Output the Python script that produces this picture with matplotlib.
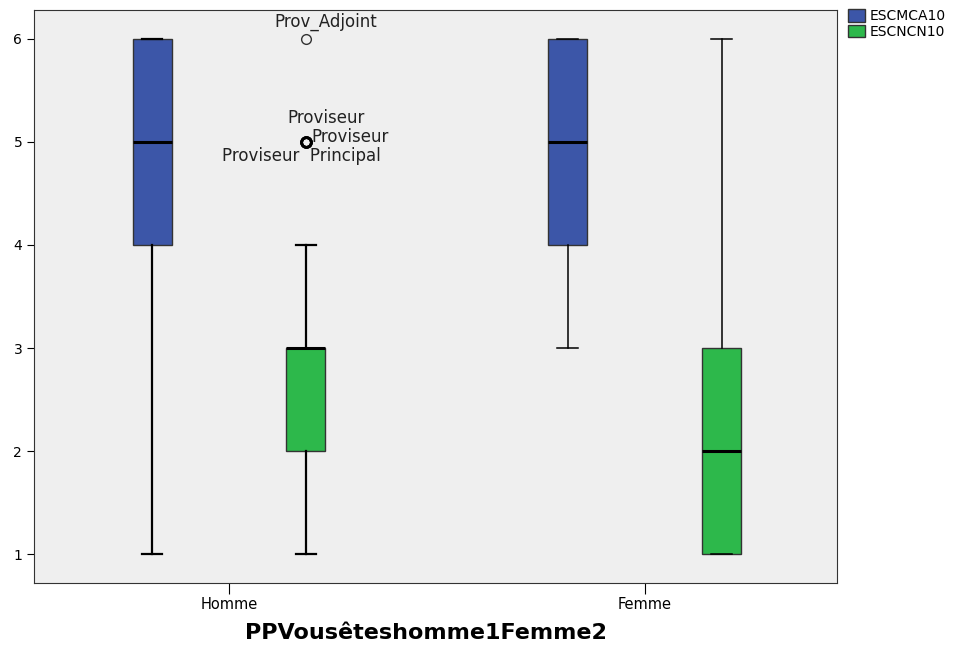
import matplotlib
matplotlib.use("Agg")
import matplotlib.pyplot as plt
from matplotlib.patches import Patch

plt.rcParams["font.family"] = ["DejaVu Sans"]

categories = ["Homme", "Femme"]
series = ["ESCMCA10", "ESCNCN10"]
colors = ["#3c56a8", "#2db84b"]

# box stats per series, one entry per category: (whislo, q1, med, q3, whishi)
escmca10 = [(1, 4, 5, 6, 6), (3, 4, 5, 6, 6)]
escncn10 = [(1, 2, 3, 3, 4), (1, 1, 2, 3, 6)]
stats = [escmca10, escncn10]

# outliers of ESCNCN10 for Homme, with case labels
outlier_values = [6, 5, 5, 5]
outlier_labels = ["Prov_Adjoint", "Proviseur", "Proviseur", "Proviseur  Principal"]
# pixel offsets of the labels relative to the point
label_offsets = [(20, 17), (20, 24), (5, 5), (-5, -14)]
label_ha = ["center", "center", "left", "center"]

fig = plt.figure(figsize=(9.63, 6.46), dpi=100)
ax = fig.add_axes([0.0353, 0.0975, 0.8337, 0.887])
ax.set_facecolor("#efefef")

offset = 0.185
width = 0.094
whisker_lw = [1.6, 1.1]  # Homme whiskers drawn heavier than Femme
for s, (st, col) in enumerate(zip(stats, colors)):
    for i, (lo, q1, med, q3, hi) in enumerate(st):
        pos = i + (offset if s else -offset)
        box = {"whislo": lo, "q1": q1, "med": med, "q3": q3, "whishi": hi, "fliers": []}
        ax.bxp([box], positions=[pos], widths=width, patch_artist=True, showfliers=False,
               boxprops=dict(facecolor=col, edgecolor="#333333", linewidth=1.0),
               medianprops=dict(color="black", linewidth=2.2),
               whiskerprops=dict(color="black", linewidth=whisker_lw[i]),
               capprops=dict(color="black", linewidth=whisker_lw[i]),
               capwidths=0.05)

ox = 0 + offset
for k, (v, lab, off, ha) in enumerate(zip(outlier_values, outlier_labels, label_offsets, label_ha)):
    lw = 1.0 if k == 0 else 2.0
    ax.plot(ox, v, marker="o", markersize=7, markerfacecolor="none",
            markeredgecolor="#333333" if k == 0 else "black", markeredgewidth=lw, zorder=5)
    ax.annotate(lab, (ox, v), xytext=off, textcoords="offset pixels",
                ha=ha, va="center", fontsize=12, color="#222222")

ax.set_xlim(-0.469, 1.462)
ax.set_ylim(0.72, 6.28)
ax.set_xticks(range(len(categories)))
ax.set_xticklabels(categories, fontsize=10.5)
ax.set_yticks([1, 2, 3, 4, 5, 6])
ax.tick_params(axis="y", length=5, labelsize=10)
ax.tick_params(axis="x", length=8, labelsize=10.5, pad=2)
for sp in ax.spines.values():
    sp.set_color("#333333")
fig.text(426 / 963, 1 - 633 / 646, "PPVousêteshomme1Femme2", fontsize=16,
         fontweight="bold", ha="center", va="center")

handles = [Patch(facecolor=c, edgecolor="#333333", label=l) for c, l in zip(colors, series)]
fig.legend(handles=handles, loc="upper left", bbox_to_anchor=(0.868, 1.005), frameon=False,
           fontsize=10, handlelength=1.2, handleheight=1.0, handletextpad=0.3, labelspacing=0.1)

fig.savefig("out.png", dpi=100)
